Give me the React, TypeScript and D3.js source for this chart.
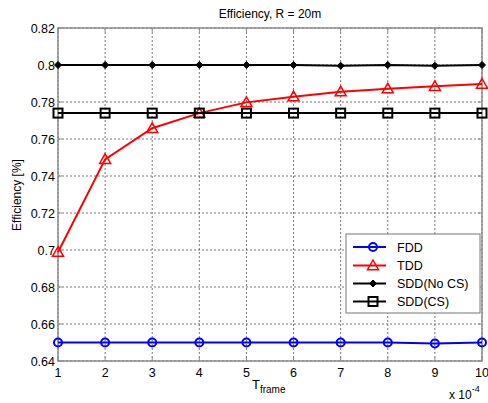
import React from "react";
import * as d3 from "d3";

const xValues = [1, 2, 3, 4, 5, 6, 7, 8, 9, 10];
const fdd = [0.65, 0.65, 0.65, 0.65, 0.65, 0.65, 0.65, 0.65, 0.6495, 0.65];
const tdd = [0.6988, 0.749, 0.7658, 0.774, 0.7798, 0.7829, 0.7856, 0.7872, 0.7885, 0.7897];
const sddNoCs = [0.8, 0.8, 0.8, 0.8, 0.8, 0.8, 0.7996, 0.8, 0.7996, 0.8];
const sddCs = [0.774, 0.774, 0.774, 0.774, 0.774, 0.774, 0.774, 0.774, 0.774, 0.774];
const yTicks = [0.64, 0.66, 0.68, 0.7, 0.72, 0.74, 0.76, 0.78, 0.8, 0.82];
const xTicks = [1, 2, 3, 4, 5, 6, 7, 8, 9, 10];
const seriesNames = ["FDD", "TDD", "SDD(No CS)", "SDD(CS)"];

const W = 488, H = 403;
const L = 58, R = 482, T = 28, B = 361;
const font = "Liberation Sans, Arial, sans-serif";

type Marker = "circle" | "triangle" | "diamond" | "square";

function MarkerShape({ type, x, y, color }: { type: Marker; x: number; y: number; color: string }) {
  if (type === "circle") return <circle cx={x} cy={y} r={4} fill="none" stroke={color} strokeWidth={2} />;
  if (type === "triangle") {
    const s = 5.5;
    return <path d={`M${x},${y - s} L${x + s},${y + s * 0.75} L${x - s},${y + s * 0.75} Z`} fill="none" stroke={color} strokeWidth={1.5} />;
  }
  if (type === "diamond") {
    const s = 3.5;
    return <path d={`M${x},${y - s} L${x + s},${y} L${x},${y + s} L${x - s},${y} Z`} fill={color} stroke={color} strokeWidth={1} />;
  }
  return <rect x={x - 4.5} y={y - 4.5} width={9} height={9} fill="none" stroke={color} strokeWidth={2} />;
}

export default function App() {
  const x = d3.scaleLinear().domain([1, 10]).range([L, R]);
  const y = d3.scaleLinear().domain([0.64, 0.82]).range([B, T]);
  const line = d3.line<number>().x((_, i) => x(xValues[i])).y((d) => y(d));

  const series: { data: number[]; color: string; marker: Marker; width: number }[] = [
    { data: fdd, color: "#0000ff", marker: "circle", width: 2 },
    { data: tdd, color: "#ff0000", marker: "triangle", width: 2 },
    { data: sddNoCs, color: "#000000", marker: "diamond", width: 2 },
    { data: sddCs, color: "#000000", marker: "square", width: 2 },
  ];

  const legX = 346, legY = 234, legW = 134, legH = 79;
  const legRows = [247, 265.5, 283.5, 301.5];

  return (
    <svg width={W} height={H} style={{ position: "absolute", left: 0, top: 0, background: "#fff" }}>
      <rect x={0} y={0} width={W} height={H} fill="#fff" />
      {xTicks.map((t) => (
        <line key={"gx" + t} x1={x(t)} x2={x(t)} y1={T} y2={B} stroke="#555" strokeWidth={0.8} strokeDasharray="2,2" />
      ))}
      {yTicks.map((t) => (
        <line key={"gy" + t} x1={L} x2={R} y1={y(t)} y2={y(t)} stroke="#555" strokeWidth={0.8} strokeDasharray="2,2" />
      ))}
      <rect x={L} y={T} width={R - L} height={B - T} fill="none" stroke="#8c8c8c" strokeWidth={1.5} />
      {xTicks.map((t) => (
        <g key={"tx" + t}>
          <line x1={x(t)} x2={x(t)} y1={B} y2={B - 4} stroke="#8c8c8c" />
          <line x1={x(t)} x2={x(t)} y1={T} y2={T + 4} stroke="#8c8c8c" />
          <text x={x(t)} y={B + 16} textAnchor="middle" fontFamily={font} fontSize={12.5} fill="#000">{t}</text>
        </g>
      ))}
      {yTicks.map((t) => (
        <g key={"ty" + t}>
          <line x1={L} x2={L + 4} y1={y(t)} y2={y(t)} stroke="#8c8c8c" />
          <line x1={R} x2={R - 4} y1={y(t)} y2={y(t)} stroke="#8c8c8c" />
          <text x={L - 3} y={y(t) + 4.5} textAnchor="end" fontFamily={font} fontSize={12.5} fill="#000">{String(t)}</text>
        </g>
      ))}
      {series.map((s, si) => (
        <g key={"s" + si}>
          <path d={line(s.data) || ""} fill="none" stroke={s.color} strokeWidth={s.width} />
          {s.data.map((v, i) => (
            <MarkerShape key={i} type={s.marker} x={x(xValues[i])} y={y(v)} color={s.color} />
          ))}
        </g>
      ))}
      <text x={270} y={18} textAnchor="middle" fontFamily={font} fontSize={12} fill="#000">Efficiency, R = 20m</text>
      <text transform={`translate(21,195) rotate(-90)`} textAnchor="middle" fontFamily={font} fontSize={12} fill="#000">Efficiency [%]</text>
      <text x={252} y={389} fontFamily={font} fontSize={13} fill="#000">T<tspan fontSize={10} dy={4}>frame</tspan></text>
      <text x={449} y={399} fontFamily={font} fontSize={12} fill="#000">x 10<tspan fontSize={9} dy={-7}>-4</tspan></text>
      <rect x={legX} y={legY} width={legW} height={legH} fill="#fff" stroke="#777" strokeWidth={1} />
      {series.map((s, i) => (
        <g key={"l" + i}>
          <line x1={353} x2={386} y1={legRows[i]} y2={legRows[i]} stroke={s.color} strokeWidth={2} />
          <MarkerShape type={s.marker} x={373} y={legRows[i]} color={s.color} />
          <text x={397} y={legRows[i] + 4.5} fontFamily={font} fontSize={12.5} fill="#000">{seriesNames[i]}</text>
        </g>
      ))}
    </svg>
  );
}
